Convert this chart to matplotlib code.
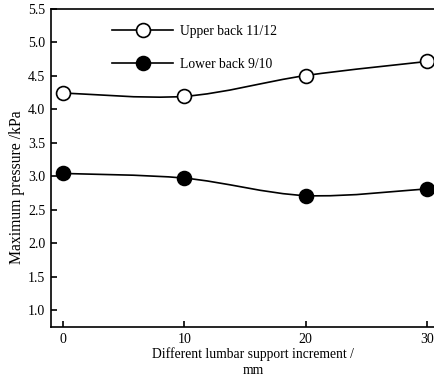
import numpy as np
import matplotlib
matplotlib.use("Agg")
import matplotlib.pyplot as plt
from matplotlib.path import Path
from matplotlib.patches import PathPatch
from matplotlib.lines import Line2D

increments = [0, 10, 20, 30]
upper_back = [4.24, 4.19, 4.50, 4.71]
lower_back = [3.04, 2.97, 2.71, 2.81]
labels = ["Upper back 11/12", "Lower back 9/10"]
yticks = [1.0, 1.5, 2.0, 2.5, 3.0, 3.5, 4.0, 4.5, 5.0, 5.5]
xticks = [0, 10, 20, 30]

plt.rcParams["font.family"] = ["Liberation Serif", "DejaVu Serif"]
FS = 9.8

fig = plt.figure(figsize=(4.34, 3.78), dpi=100)
ax = fig.add_axes([51/434, 51/378, 1 - 51/434, (327 - 8.5)/378])


def smooth_path(x, y, t=0.5):
    x = np.asarray(x, float); y = np.asarray(y, float)
    n = len(x)
    verts = [(x[0], y[0])]
    codes = [Path.MOVETO]
    for i in range(n - 1):
        p0 = np.array([x[max(i-1, 0)], y[max(i-1, 0)]])
        p1 = np.array([x[i], y[i]])
        p2 = np.array([x[i+1], y[i+1]])
        p3 = np.array([x[min(i+2, n-1)], y[min(i+2, n-1)]])
        c1 = p1 + (p2 - p0) * t / 3
        c2 = p2 - (p3 - p1) * t / 3
        verts += [tuple(c1), tuple(c2), tuple(p2)]
        codes += [Path.CURVE4] * 3
    return Path(verts, codes)


for ys, fc in [(upper_back, "white"), (lower_back, "black")]:
    ax.add_patch(PathPatch(smooth_path(increments, ys), fill=False, lw=1.2,
                           edgecolor="black", zorder=2))
    ax.plot(increments, ys, ls="none", marker="o", ms=10, mfc=fc,
            mec="black", mew=1.2, zorder=3)

handles = [Line2D([], [], color="black", lw=1.2, marker="o", ms=10,
                  mfc=fc, mec="black", mew=1.2) for fc in ["white", "black"]]
ax.legend(handles, labels, loc="upper left", bbox_to_anchor=(0.145, 0.965),
          frameon=False, fontsize=FS, handlelength=4.5, handletextpad=0.5,
          labelspacing=1.45, borderaxespad=0)

ax.set_xlim(-1.0, 30.58)
ax.set_ylim(0.75, 5.5)
ax.set_xticks(xticks)
ax.set_yticks(yticks)
ax.set_yticklabels([f"{v:.1f}" for v in yticks])
ax.tick_params(direction="in", length=4, width=1.2, labelsize=10, pad=4)
ax.spines["right"].set_visible(False)
for s in ["left", "top", "bottom"]:
    ax.spines[s].set_linewidth(1.2)

ax.set_xlabel("Different lumbar support increment /\nmm", fontsize=9.8,
              linespacing=1.3)
ax.xaxis.set_label_coords(0.527, -0.063, transform=ax.transAxes)
ax.xaxis.label.set_va("top")
ax.set_ylabel("Maximum pressure /kPa", fontsize=11.3)
ax.yaxis.set_label_coords(-0.067, 0.44)

fig.savefig("out.png", dpi=100)
